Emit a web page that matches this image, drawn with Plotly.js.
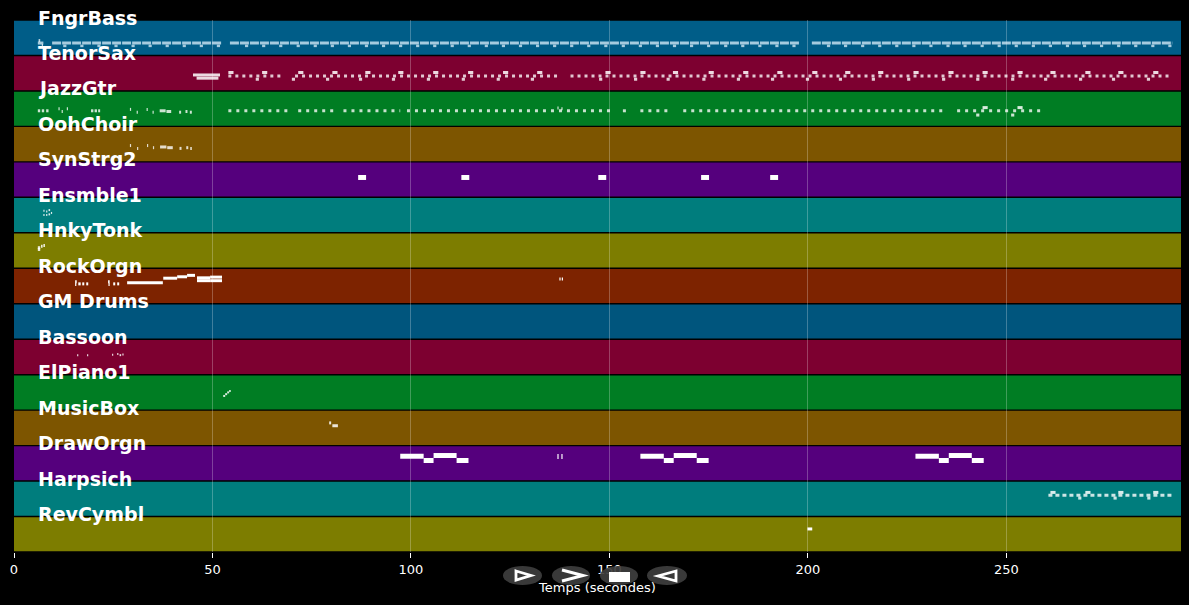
<!DOCTYPE html>
<html><head><meta charset="utf-8">
<script src="https://cdn.plot.ly/plotly-3.0.1.min.js"></script>
<style>html,body{margin:0;padding:0;background:#000;}#chart{width:1189px;height:605px;}</style>
</head><body><div id="chart"></div>
<script>
// ---------------- DATA ----------------
const trackNames = ['FngrBass','TenorSax','JazzGtr','OohChoir','SynStrg2','Ensmble1','HnkyTonk','RockOrgn','GM Drums','Bassoon','ElPiano1','MusicBox','DrawOrgn','Harpsich','RevCymbl'];
const bandColors = ['#005d88','#7d0030','#007d23','#7d5500','#55007d','#007d7d','#7d7d00','#7d2300','#00557d','#7d0030','#007d23','#7d5500','#55007d','#007d7d','#7d7d00'];
const xTickVals = [0, 50, 100, 150, 200, 250];
const timeRange = [0, 294];
const xTitle = 'Temps (secondes)';

// runs of repeated notes: [start s, end s, pitch position in band 0..1 from top]
const runsFngrBass = [[6.0,7.4,0.65],[9.6,52.2,0.65],[54.4,198.0,0.65],[201.0,291.8,0.65]];
const runsTenorSax = [[54.0,67.8,0.58],[70.8,137.0,0.58],[140.2,291.8,0.58]];
const runsJazzGtr  = [[54.0,69.5,0.56],[71.6,81.4,0.56],[83.0,97.3,0.56],[99.0,150.2,0.56],[153.4,154.2,0.56],[157.8,165.8,0.56],[168.6,234.0,0.56],[237.6,259.3,0.56]];
const runsHarpsich = [[260.6,291.8,0.40]];

// lower notes of the bass line (start s)
const dipsFngrBass = [12.4,16.7,21.0,25.3,29.6,33.9,38.2,42.5,46.8,51.1,58.2,62.5,66.8,71.2,75.5,79.8,84.1,88.4,92.7,97.0,101.3,105.6,110.0,114.3,118.6,122.9,127.2,131.5,135.8,140.1,144.4,148.7,153.1,157.4,161.7,166.0,170.3,174.6,178.9,183.2,187.5,191.8,196.1,204.8,209.1,213.4,217.7,222.0,226.3,230.6,234.9,239.2,243.5,247.8,252.1,256.4,260.7,265.0,269.3,273.6,277.9,282.2,286.5,290.8];
// high notes of the sax/guitar/harpsichord phrases (start s)
const peaksTenorSax = [54.0,62.5,71.6,80.2,88.5,96.8,105.6,114.4,123.2,131.8,149.0,157.8,166.0,175.0,183.7,192.3,201.1,209.4,217.7,226.6,235.4,244.0,252.8,261.1,269.9,278.2,287.0];
const dipsTenorSax  = [60.9,70.0,78.6,86.9,95.2,104.0,112.8,121.6,130.2,147.4,156.2,164.4,173.4,182.1,190.7,199.5,207.8,216.1,225.0,233.8,242.4,251.2,259.5,268.3,276.6,285.4];
const peaksJazzGtr  = [244.0,252.8];
const dipsJazzGtr   = [242.4,251.2];
const peaksHarpsich = [261.1,269.9,278.2,287.0];
const dipsHarpsich  = [268.1,277.0,285.5];

// single notes: [start s, duration s, pitch position in band]
const notesFngrBass = [[6.2,0.4,0.58],[7.0,0.3,0.72]];
const notesTenorSax = [[45.1,6.8,0.55],[46.0,5.5,0.64]];
const notesJazzGtr  = [[6.0,0.6,0.56],[7.0,0.6,0.56],[8.1,0.6,0.56],[11.2,0.3,0.50],[12.0,0.3,0.58],[13.3,0.3,0.50],[19.4,0.6,0.56],[20.3,0.6,0.56],[21.2,0.5,0.56],[29.2,0.3,0.52],[30.9,0.3,0.60],[33.4,0.3,0.52],[34.9,0.3,0.60],[36.7,1.5,0.56],[38.4,1.2,0.58],[41.6,0.5,0.60],[43.2,0.5,0.58],[44.3,0.5,0.60],[136.9,0.3,0.48],[137.9,0.3,0.50]];
const notesOohChoir = [[29.2,0.3,0.54],[31.0,0.3,0.62],[33.5,0.3,0.54],[35.0,0.3,0.60],[36.8,1.6,0.58],[38.6,1.4,0.60],[41.7,0.5,0.62],[43.4,0.5,0.60],[44.4,0.4,0.62]];
const notesSynStrg2 = [[86.7,2.0,0.44],[112.7,2.0,0.44],[147.2,2.0,0.44],[173.1,2.0,0.44],[190.5,2.0,0.44]];
const notesEnsmble1 = [[7.4,0.3,0.38],[7.4,0.3,0.50],[8.1,0.3,0.40],[8.1,0.3,0.50],[8.7,0.4,0.36],[8.7,0.4,0.48],[9.3,0.3,0.44]];
const notesHnkyTonk = [[6.0,0.6,0.42],[6.0,0.6,0.47],[6.8,0.4,0.38],[7.4,0.4,0.36]];
const notesRockOrgn = [[15.4,0.4,0.38],[15.4,0.3,0.46],[16.2,0.6,0.44],[17.2,0.5,0.44],[18.2,0.5,0.44],[23.7,0.4,0.38],[23.8,0.3,0.46],[25.0,0.5,0.44],[26.0,0.5,0.44],[28.5,9.0,0.41],[37.6,3.5,0.28],[41.1,2.5,0.24],[43.6,2.0,0.20],[46.1,3.3,0.27],[46.1,3.3,0.35],[49.4,3.0,0.25],[49.4,3.0,0.35],[137.4,0.3,0.30],[138.0,0.3,0.30]];
const notesBassoon  = [[15.9,0.3,0.45],[18.4,0.3,0.45],[24.7,0.3,0.44],[26.0,0.3,0.42],[26.6,0.4,0.45],[27.3,0.3,0.43]];
const notesElPiano1 = [[52.7,0.5,0.60],[53.2,0.5,0.55],[53.7,0.5,0.50],[54.2,0.4,0.46]];
const notesMusicBox = [[79.4,0.5,0.36],[80.2,1.4,0.44]];
const notesDrawOrgn = [[97.3,5.9,0.30],[103.2,2.5,0.42],[105.7,5.8,0.28],[111.5,3.0,0.42],[136.9,0.3,0.31],[137.9,0.3,0.31],[157.8,5.9,0.30],[163.7,2.5,0.42],[166.2,5.8,0.28],[172.0,3.0,0.42],[227.1,5.9,0.30],[233.0,2.5,0.42],[235.5,5.8,0.28],[241.3,3.0,0.42]];
const notesRevCymbl = [[199.9,1.2,0.35]];

// ---------------- BUILD ----------------
const notesByTrack = [notesFngrBass,notesTenorSax,notesJazzGtr,notesOohChoir,notesSynStrg2,notesEnsmble1,notesHnkyTonk,notesRockOrgn,[],notesBassoon,notesElPiano1,notesMusicBox,notesDrawOrgn,[],notesRevCymbl];
const noteWidth  = [3,3,3,3,5,2,3,3,3,2,2,3,5,3,3];
const noteColor  = ['rgba(255,255,255,0.75)','rgba(255,255,255,0.85)','rgba(255,255,255,0.8)','rgba(255,255,255,0.8)','#ffffff','rgba(255,255,255,0.85)','rgba(255,255,255,0.85)','#ffffff','#ffffff','rgba(255,255,255,0.85)','rgba(255,255,255,0.85)','rgba(255,255,255,0.85)','#ffffff','rgba(255,255,255,0.8)','#ffffff'];

const traces = [];
function segTrace(band, list, width, color, dash) {
  const x = [], y = [];
  for (const [s, d, p] of list) { x.push(s, s + d, null); y.push(band + p, band + p, null); }
  return {type:'scatter', mode:'lines', x, y, hoverinfo:'skip', line:{color, width, dash: dash || 'solid'}};
}
function runTrace(band, list, width, color, dash) {
  const x = [], y = [];
  for (const [s, e, p] of list) { x.push(s, e, null); y.push(band + p, band + p, null); }
  return {type:'scatter', mode:'lines', x, y, hoverinfo:'skip', line:{color, width, dash}};
}
function accentTrace(band, starts, dur, pos, width, color) {
  return segTrace(band, starts.map(s => [s, dur, pos]), width, color);
}

// dense runs
traces.push(runTrace(0, runsFngrBass, 3, 'rgba(230,245,255,0.72)', '9px,1px'));
traces.push(runTrace(1, runsTenorSax, 3, 'rgba(255,255,255,0.78)', '3px,4px'));
traces.push(runTrace(2, runsJazzGtr, 3, 'rgba(255,255,255,0.78)', '3px,5px'));
traces.push(runTrace(13, runsHarpsich, 3, 'rgba(255,255,255,0.8)', '4px,3px'));
// accents
traces.push(accentTrace(0, dipsFngrBass, 0.8, 0.73, 2.5, 'rgba(230,245,255,0.72)'));
traces.push(accentTrace(1, peaksTenorSax, 1.3, 0.48, 3, 'rgba(255,255,255,0.85)'));
traces.push(accentTrace(1, dipsTenorSax, 0.8, 0.67, 3, 'rgba(255,255,255,0.8)'));
traces.push(accentTrace(2, peaksJazzGtr, 1.3, 0.47, 3, 'rgba(255,255,255,0.85)'));
traces.push(accentTrace(2, dipsJazzGtr, 0.8, 0.68, 3, 'rgba(255,255,255,0.8)'));
traces.push(accentTrace(13, peaksHarpsich, 1.3, 0.32, 3, 'rgba(255,255,255,0.85)'));
traces.push(accentTrace(13, dipsHarpsich, 0.8, 0.48, 3, 'rgba(255,255,255,0.8)'));
// single notes
notesByTrack.forEach((list, i) => { if (list.length) traces.push(segTrace(i, list, noteWidth[i], noteColor[i])); });

// bands
const shapes = trackNames.map((n, i) => ({
  type:'rect', xref:'x', yref:'y', x0:timeRange[0], x1:timeRange[1], y0:i + 0.02, y1:i + 0.98,
  fillcolor:bandColors[i], line:{width:0}, layer:'below'
}));
// labels
const annotations = trackNames.map((n, i) => ({
  xref:'x', yref:'y', x:6.0, y:i, text:n, showarrow:false, xanchor:'left', yanchor:'middle', xshift:-2, yshift:2.5,
  font:{family:'DejaVu Sans', size:19, color:'#ffffff', weight:'bold'}
}));

// player control overlay (decorative)
const PX = v => (v - 14) / 1167, PY = v => (552 - v) / 532;
[[503,542],[552,590],[600,638],[647,687]].forEach(([a, b]) => shapes.push({
  type:'circle', xref:'paper', yref:'paper', x0:PX(a), x1:PX(b), y0:PY(566), y1:PY(585),
  fillcolor:'rgba(62,62,62,0.92)', line:{width:0}, layer:'above'
}));
const P = (pts, close) => pts.map((p, k) => (k ? 'L' : 'M') + PX(p[0]) + ',' + PY(p[1])).join(' ') + (close ? ' Z' : '');
shapes.push({type:'path', xref:'paper', yref:'paper', path:P([[516,571],[531,575.5],[516,580]], true), line:{color:'#fff', width:2.8}, layer:'above'});
shapes.push({type:'path', xref:'paper', yref:'paper', path:P([[562,570],[583,575.5],[562,581]], false), line:{color:'#fff', width:3}, layer:'above'});
shapes.push({type:'rect', xref:'paper', yref:'paper', x0:PX(609), x1:PX(630), y0:PY(572), y1:PY(582), fillcolor:'#fff', line:{width:0}, layer:'above'});
shapes.push({type:'path', xref:'paper', yref:'paper', path:P([[676,571],[658,576],[676,581]], true), line:{color:'#fff', width:2.8}, layer:'above'});

const layout = {
  width:1189, height:605,
  paper_bgcolor:'#000', plot_bgcolor:'#000',
  margin:{l:14, r:8, t:20, b:53},
  showlegend:false,
  hovermode:false,
  xaxis:{
    range:timeRange, tickvals:xTickVals, ticks:'outside', ticklen:5, tickwidth:1, tickcolor:'#ffffff',
    tickfont:{family:'DejaVu Sans', size:13, color:'#ffffff'},
    showgrid:true, gridcolor:'rgba(255,255,255,0.25)', gridwidth:1, zeroline:false, showline:false,
    title:{text:xTitle, font:{family:'DejaVu Sans', size:13, color:'#ffffff'}, standoff:7}
  },
  yaxis:{range:[15, 0], visible:false, showgrid:false, zeroline:false},
  shapes, annotations
};
Plotly.newPlot('chart', traces, layout, {displayModeBar:false, staticPlot:true});
</script></body></html>
